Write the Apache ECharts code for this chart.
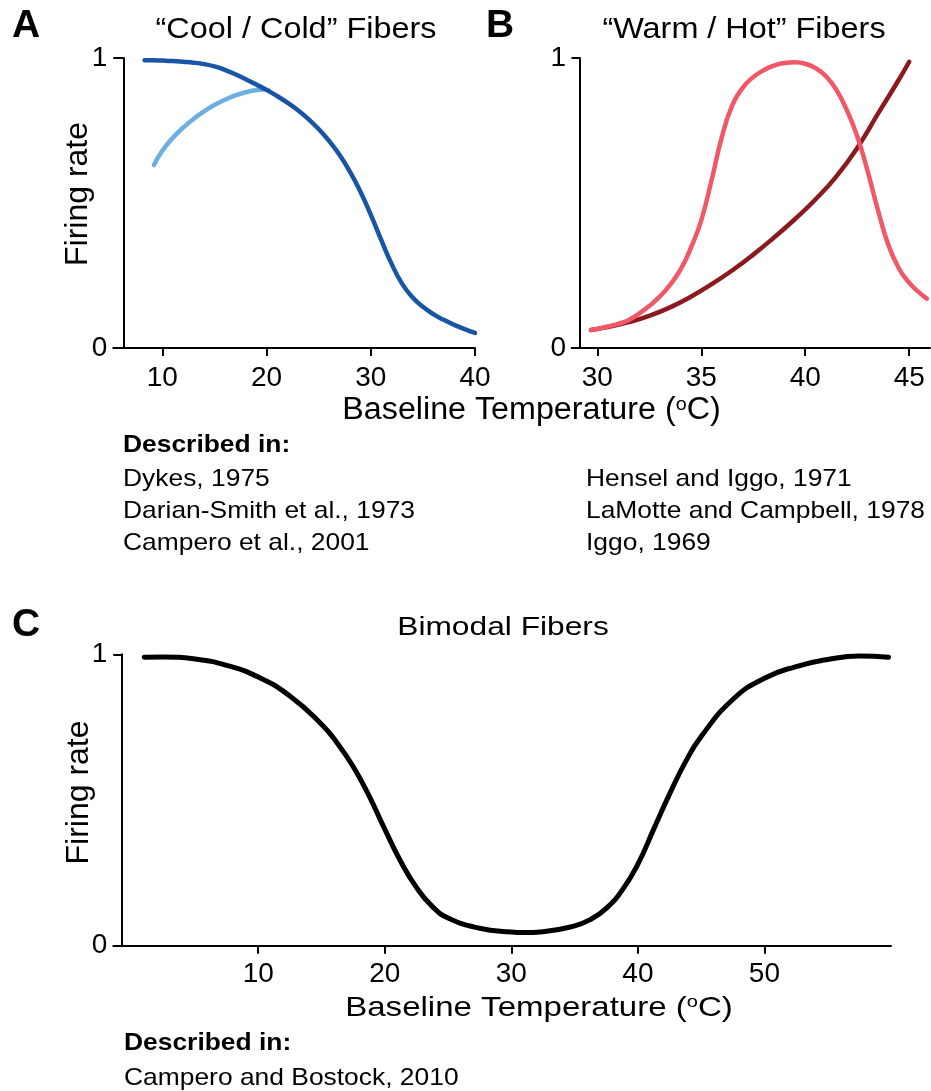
<!DOCTYPE html>
<html>
<head>
<meta charset="utf-8">
<script src="https://cdn.jsdelivr.net/npm/echarts@6/dist/echarts.min.js"></script>
<style>
html,body{margin:0;padding:0;background:#fff;}
#chart{width:931px;height:1091px;}
</style>
</head>
<body>
<div id="chart"></div>
<script>
// ---------- data ----------
const coolDarkX = [8.3, 9, 10, 11, 12, 13, 14, 15, 16, 17, 18, 19, 20, 21, 22, 23, 24, 25, 26, 27, 28, 29, 30, 31, 32, 33, 34, 35, 36, 37, 38, 39, 40];
const coolDarkY = [0.992, 0.992, 0.991, 0.9895, 0.987, 0.984, 0.979, 0.971, 0.959, 0.944, 0.927, 0.909, 0.890, 0.869, 0.846, 0.820, 0.790, 0.755, 0.714, 0.666, 0.608, 0.540, 0.460, 0.373, 0.290, 0.222, 0.175, 0.142, 0.117, 0.097, 0.080, 0.065, 0.052];
const coolLightX = [9.2, 10, 11, 12, 13, 14, 15, 16, 17, 18, 19, 19.7, 20.2];
const coolLightY = [0.631, 0.680, 0.724, 0.760, 0.790, 0.816, 0.838, 0.856, 0.871, 0.882, 0.889, 0.891, 0.889];

const warmX = [29.7, 30, 30.5, 31, 31.5, 32, 32.5, 33, 33.5, 34, 34.5, 35, 35.5, 36, 36.5, 37, 37.5, 38, 38.5, 39, 39.5, 40, 40.5, 41, 41.5, 42, 42.5, 43, 43.5, 44, 44.5, 45, 45.5, 45.85];
const warmY = [0.062, 0.066, 0.074, 0.083, 0.096, 0.118, 0.145, 0.177, 0.218, 0.270, 0.345, 0.440, 0.580, 0.730, 0.838, 0.898, 0.934, 0.958, 0.974, 0.983, 0.985, 0.980, 0.965, 0.937, 0.890, 0.820, 0.730, 0.610, 0.475, 0.355, 0.275, 0.225, 0.190, 0.170];
const hotX = [29.7, 30.5, 31.5, 32.5, 33.5, 34.5, 35.5, 36.5, 37.5, 38.5, 39.5, 40.5, 41.5, 42.5, 43.5, 44.5, 45.0];
const hotY = [0.062, 0.072, 0.089, 0.111, 0.140, 0.177, 0.220, 0.268, 0.322, 0.381, 0.444, 0.513, 0.592, 0.690, 0.808, 0.925, 0.987];

const bimodalX = [1.0, 2.5, 5, 7.5, 10, 12.5, 15, 16.25, 17.5, 18.75, 20, 21.25, 22.5, 23.75, 25, 27.5, 30, 31, 32.5, 35, 36.25, 37.5, 38.75, 40, 41.25, 42.5, 43.75, 45, 47.5, 50, 52.5, 55, 57.5, 59.8];
const bimodalY = [0.990, 0.991, 0.984, 0.962, 0.922, 0.857, 0.760, 0.695, 0.615, 0.515, 0.400, 0.290, 0.200, 0.135, 0.095, 0.060, 0.047, 0.045, 0.048, 0.068, 0.090, 0.128, 0.190, 0.280, 0.400, 0.520, 0.630, 0.718, 0.845, 0.918, 0.958, 0.982, 0.994, 0.990];

const ticksA = [10, 20, 30, 40];
const ticksB = [30, 35, 40, 45];
const ticksC = [10, 20, 30, 40, 50];
const ticksY = [0, 1];

const titleA = '\u201CCool / Cold\u201D Fibers';
const titleB = '\u201CWarm / Hot\u201D Fibers';
const titleC = 'Bimodal Fibers';
const yName = 'Firing rate';
const describedLabel = 'Described in:';
const refsA = ['Dykes, 1975', 'Darian-Smith et al., 1973', 'Campero et al., 2001'];
const refsB = ['Hensel and Iggo, 1971', 'LaMotte and Campbell, 1978', 'Iggo, 1969'];
const refsC = ['Campero and Bostock, 2010'];

// ---------- helpers ----------
const FONT = "'Liberation Sans', Arial, Helvetica, sans-serif";
const zip = (xs, ys) => xs.map((x, i) => [x, ys[i]]);

function xAxisCfg(gridIndex, min, max, ticks, margin) {
  return {
    type: 'value', gridIndex, min, max,
    axisLine: { show: true, onZero: false, lineStyle: { color: '#000', width: 2 } },
    axisTick: { show: true, length: 8, inside: false, customValues: ticks, lineStyle: { color: '#000', width: 2 } },
    axisLabel: { show: true, customValues: ticks, fontSize: 28, fontFamily: FONT, color: '#000', margin },
    splitLine: { show: false }
  };
}
function yAxisCfg(gridIndex, offset, tickLen, margin) {
  return {
    type: 'value', gridIndex, min: 0, max: 1, offset,
    axisLine: { show: true, onZero: false, lineStyle: { color: '#000', width: 2 } },
    axisTick: { show: true, length: tickLen, customValues: ticksY, lineStyle: { color: '#000', width: 2 } },
    axisLabel: { show: true, customValues: ticksY, fontSize: 28, fontFamily: FONT, color: '#000', margin },
    splitLine: { show: false }
  };
}
function lineSeries(xi, data, color, width) {
  return {
    type: 'line', xAxisIndex: xi, yAxisIndex: xi, data,
    showSymbol: false, symbol: 'none', smooth: 0.5,
    lineStyle: { color, width, cap: 'round', join: 'round' }, silent: true
  };
}
function txt(x, y, text, size, opts) {
  opts = opts || {};
  return {
    type: 'text', x, y, rotation: opts.rotation || 0, scaleX: opts.scaleX || 1, silent: true,
    style: {
      text, x: 0, y: 0,
      font: (opts.bold ? 'bold ' : '') + size + 'px ' + FONT,
      fill: '#000',
      align: opts.align || 'left', verticalAlign: 'middle',
      rich: opts.rich
    }
  };
}
const supRich = {
  n: { fontSize: 31, fontFamily: FONT, color: '#000' },
  s: { fontSize: 19, fontFamily: FONT, color: '#000', verticalAlign: 'top' }
};
const supRichC = {
  n: { fontSize: 28, fontFamily: FONT, color: '#000' },
  s: { fontSize: 17, fontFamily: FONT, color: '#000', verticalAlign: 'top' }
};
const xNameText = '{n|Baseline Temperature (}{s|o}{n|C)}';

const graphics = [
  txt(12, 26, 'A', 39, { bold: true }),
  txt(486, 26, 'B', 39, { bold: true }),
  txt(12, 625, 'C', 39, { bold: true }),
  txt(296, 29.5, titleA, 30, { align: 'center', scaleX: 1.08 }),
  txt(744, 29.5, titleB, 30, { align: 'center', scaleX: 1.08 }),
  txt(503, 627.5, titleC, 26, { align: 'center', scaleX: 1.22 }),
  txt(78, 194, yName, 32, { align: 'center', rotation: Math.PI / 2 }),
  txt(79, 792.5, yName, 32, { align: 'center', rotation: Math.PI / 2 }),
  txt(531.5, 410.5, xNameText, 31, { align: 'center', scaleX: 1.04, rich: supRich }),
  txt(539, 1008, xNameText, 28, { align: 'center', scaleX: 1.18, rich: supRichC }),
  txt(123, 445, describedLabel, 24, { bold: true, scaleX: 1.1 }),
  txt(124, 1043, describedLabel, 24, { bold: true, scaleX: 1.1 })
];
const refY = [479.3, 511.7, 543.7];
refsA.forEach((t, i) => graphics.push(txt(123, refY[i], t, 24, { scaleX: 1.1 })));
refsB.forEach((t, i) => graphics.push(txt(586, refY[i], t, 24, { scaleX: 1.1 })));
refsC.forEach((t, i) => graphics.push(txt(124, 1078 + i * 32.3, t, 24, { scaleX: 1.1 })));

const option = {
  animation: false,
  backgroundColor: '#fff',
  grid: [
    { left: 113.3, top: 58, width: 361.7, height: 290 },
    { left: 571.7, top: 58, width: 358.3, height: 290 },
    { left: 113.3, top: 654.3, width: 777.7, height: 291.4 }
  ],
  xAxis: [
    xAxisCfg(0, 5.3, 40, ticksA, 16),
    xAxisCfg(1, 28.77, 46.0, ticksB, 16),
    xAxisCfg(2, -1.45, 60, ticksC, 15)
  ],
  yAxis: [
    yAxisCfg(0, -10, 10, 16),
    yAxisCfg(1, -8.3, 8.5, 14),
    yAxisCfg(2, -8.4, 8.5, 14.5)
  ],
  series: [
    lineSeries(0, zip(coolLightX, coolLightY), '#6eafe1', 4.5),
    lineSeries(0, zip(coolDarkX, coolDarkY), '#1955a5', 4.5),
    lineSeries(1, zip(hotX, hotY), '#8b1a1e', 4.5),
    lineSeries(1, zip(warmX, warmY), '#f25767', 4.5),
    lineSeries(2, zip(bimodalX, bimodalY), '#000000', 5)
  ],
  graphic: { elements: graphics }
};

const chart = echarts.init(document.getElementById('chart'), null, { renderer: 'canvas' });
chart.setOption(option);
</script>
</body>
</html>
